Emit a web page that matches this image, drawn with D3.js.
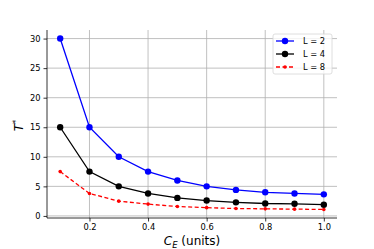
<!DOCTYPE html>
<html>
<head>
<meta charset="utf-8">
<script src="https://cdn.jsdelivr.net/npm/d3@7"></script>
<style>
body { margin: 0; background: #fff; }
text { font-family: "DejaVu Sans", sans-serif; }
</style>
</head>
<body>
<div id="chart"></div>
<script>
var ce = [0.1, 0.2, 0.3, 0.4, 0.5, 0.6, 0.7, 0.8, 0.9, 1.0];
var tL2 = [30, 15, 10, 7.5, 6.0, 5.0, 4.4, 4.0, 3.8, 3.65];
var tL4 = [15, 7.5, 5.0, 3.8, 3.05, 2.6, 2.3, 2.1, 2.05, 1.9];
var tL8 = [7.5, 3.8, 2.5, 2.0, 1.6, 1.4, 1.25, 1.2, 1.15, 1.1];
var xTicks = [0.2, 0.4, 0.6, 0.8, 1.0];
var yTicks = [0, 5, 10, 15, 20, 25, 30];

var series = [
  {name: "L = 2", values: tL2, color: "#0000ff", r: 3.2, dash: null},
  {name: "L = 4", values: tL4, color: "#000000", r: 3.2, dash: null},
  {name: "L = 8", values: tL8, color: "#ff0000", r: 1.8, dash: "4,2.5"}
];

var w = 374, h = 249,
    m = [30, 37, 31, 47]; // top right bottom left

var svg = d3.select("#chart").append("svg")
    .attr("width", w)
    .attr("height", h);

var x = d3.scaleLinear().domain([0.055, 1.045]).range([m[3], w - m[1]]);
var y = d3.scaleLinear().domain([-0.35, 31.45]).range([h - m[2], m[0]]);

// grid
svg.append("g").selectAll("line").data(yTicks).enter().append("line")
    .attr("x1", m[3]).attr("x2", w - m[1])
    .attr("y1", function(d) { return y(d); }).attr("y2", function(d) { return y(d); })
    .attr("stroke", "#b0b0b0").attr("stroke-width", 0.8);
svg.append("g").selectAll("line").data(xTicks).enter().append("line")
    .attr("y1", m[0]).attr("y2", h - m[2])
    .attr("x1", function(d) { return x(d); }).attr("x2", function(d) { return x(d); })
    .attr("stroke", "#b0b0b0").attr("stroke-width", 0.8);

// axes
var xAxis = svg.append("g")
    .attr("transform", "translate(0," + (h - m[2]) + ")")
    .call(d3.axisBottom(x).tickValues(xTicks).tickFormat(d3.format(".1f")).tickSize(3.5).tickPadding(3));
xAxis.select(".domain").attr("d", "M" + m[3] + ",0H" + (w - m[1]));
var yAxis = svg.append("g")
    .attr("transform", "translate(" + m[3] + ",0)")
    .call(d3.axisLeft(y).tickValues(yTicks).tickSize(3.5).tickPadding(3));
yAxis.select(".domain").attr("d", "M0," + m[0] + "V" + (h - m[2]));
svg.selectAll(".tick text").attr("font-size", 8.3).attr("font-family", "DejaVu Sans").attr("fill", "#000");
svg.selectAll(".domain").attr("stroke", "#000").attr("stroke-width", 0.8);
svg.selectAll(".tick line").attr("stroke", "#000").attr("stroke-width", 0.8);

// lines
var line = d3.line()
    .x(function(d, i) { return x(ce[i]); })
    .y(function(d) { return y(d); });

series.forEach(function(s) {
  svg.append("path")
      .datum(s.values)
      .attr("d", line)
      .attr("fill", "none")
      .attr("stroke", s.color)
      .attr("stroke-width", 1.3)
      .attr("stroke-dasharray", s.dash);
  svg.append("g").selectAll("circle").data(s.values).enter().append("circle")
      .attr("cx", function(d, i) { return x(ce[i]); })
      .attr("cy", function(d) { return y(d); })
      .attr("r", s.r)
      .attr("fill", s.color);
});

// labels
svg.append("text")
    .attr("x", x(0.55)).attr("y", 245)
    .attr("text-anchor", "middle")
    .attr("font-size", 12)
    .html('<tspan font-style="italic">C</tspan><tspan font-style="italic" font-size="8.5" dy="2.5">E</tspan><tspan dy="-2.5"> (units)</tspan>');

svg.append("text")
    .attr("transform", "translate(23," + y(15.3) + ") rotate(-90)")
    .attr("text-anchor", "middle")
    .attr("font-size", 12)
    .html('<tspan font-style="italic">T</tspan><tspan font-size="8.5" dy="-4.5">*</tspan>');

// legend
var lg = svg.append("g").attr("transform", "translate(273,34)");
lg.append("rect")
    .attr("width", 59).attr("height", 40).attr("rx", 2)
    .attr("fill", "#fff").attr("fill-opacity", 0.8)
    .attr("stroke", "#d5d5d5").attr("stroke-width", 0.8);
series.forEach(function(s, i) {
  var yy = 7 + i * 13;
  lg.append("line")
      .attr("x1", 3).attr("x2", 21).attr("y1", yy).attr("y2", yy)
      .attr("stroke", s.color).attr("stroke-width", 1.3)
      .attr("stroke-dasharray", s.dash);
  lg.append("circle").attr("cx", 12).attr("cy", yy).attr("r", s.r).attr("fill", s.color);
  lg.append("text")
      .attr("x", 30).attr("y", yy + 3)
      .attr("font-size", 8.3)
      .text(s.name);
});
</script>
</body>
</html>
